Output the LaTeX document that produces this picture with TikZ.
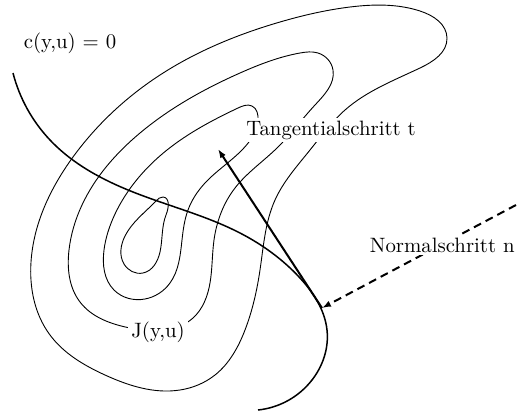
\documentclass[tikz,border=0pt]{standalone}
\usetikzlibrary{arrows.meta,hobby}
\begin{document}
\begin{tikzpicture}[x=0.5pt,y=-0.5pt,
  contour/.style={line width=0.45pt,use Hobby shortcut,closed=true},
  constraint/.style={line width=0.75pt,use Hobby shortcut},
  stepline/.style={line width=1pt,-{Latex[length=4.5pt,width=3.2pt]}},
  dashstep/.style={line width=1pt,dash pattern=on 4pt off 2.6pt,-{Latex[length=4.5pt,width=3.2pt]}},
  lbl/.style={font=\fontsize{10.4}{12}\selectfont,inner sep=1.5pt},
  wlbl/.style={lbl,fill=white}]
\useasboundingbox (0,0) rectangle (518,412);
% contour lines of J
\draw[contour] (31,262) .. (50,335) .. (105,375) .. (180,390) .. (215,375)
 .. (245,330) .. (260,270) .. (275,200) .. (310,150) .. (345,110) .. (420,68)
 .. (447,38) .. (420,11) .. (350,7) .. (280,22) .. (160,75) .. (73,157);
\draw[contour] (69,250) .. (80,302) .. (130,328) .. (193,318) .. (210,283)
 .. (214,240) .. (235,188) .. (277,148) .. (315,105) .. (333,70) .. (318,53)
 .. (300,53) .. (240,73) .. (140,133) .. (82,205);
\draw[contour] (104,250) .. (114,290) .. (145,299) .. (170,283) .. (182,240)
 .. (188,210) .. (205,183) .. (242,150) .. (258,120) .. (252,106) .. (238,108)
 .. (167,150) .. (115,214);
\draw[contour] (163,197) .. (166,215) .. (160,252) .. (143,273)
 .. (124,264) .. (125,236) .. (156,201);
% constraint curve c(y,u)=0
\draw[constraint] (13,73) .. (50,140) .. (133,192) .. (240,233)
 .. (300,278) .. (327,330) .. (312,380) .. (258,410);
% points
\coordinate (P) at (322,308);
\coordinate (T) at (218,149);
\coordinate (N) at (516,205);
% steps
\draw[stepline] (P) -- (T);
\draw[dashstep] (N) -- (P);
% labels
\node[lbl] (c) at (70,43) {c(y,u) = 0};
\node[wlbl] (J) at (158,332) {J(y,u)};
\node[wlbl] (tl) at (331,130) {Tangentialschritt t};
\node[wlbl,anchor=east] (nl) at (518,245) {Normalschritt n};
\end{tikzpicture}
\end{document}
